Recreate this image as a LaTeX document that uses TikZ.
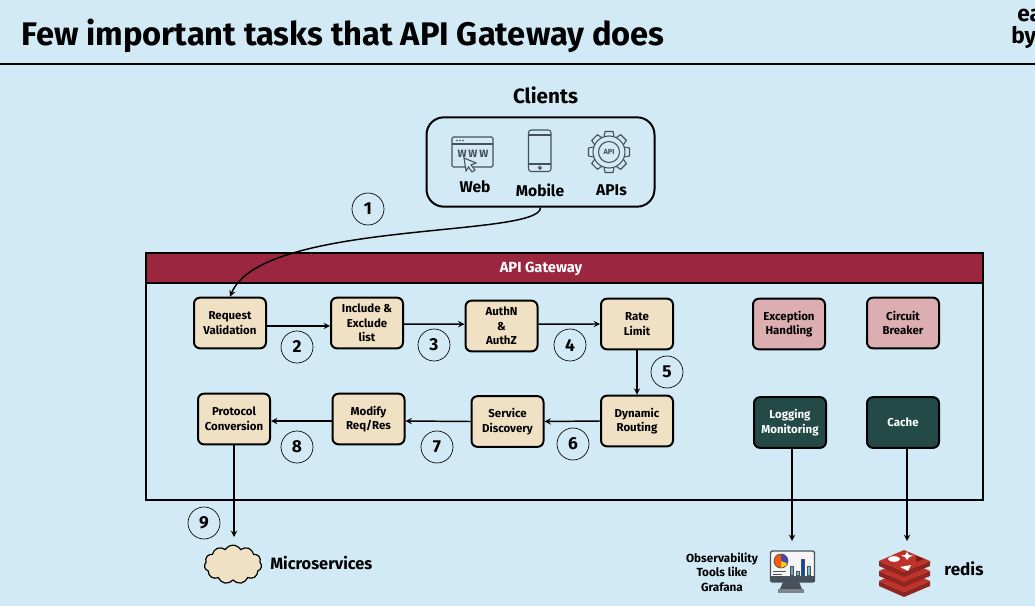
\documentclass[tikz,border=0pt]{standalone}
\usepackage{fontspec}
\setmainfont{Fira Sans}
\usepackage{tikz}
\usetikzlibrary{shapes.geometric, shapes.symbols, arrows}
\definecolor{bgblue}{RGB}{209,234,245}
\definecolor{boxcream}{RGB}{241,225,196}
\definecolor{boxpink}{RGB}{220,174,178}
\definecolor{boxteal}{RGB}{35,74,71}
\definecolor{barred}{RGB}{155,38,63}
\definecolor{redisred}{RGB}{190,50,42}
\definecolor{icongray}{RGB}{70,80,90}
\tikzstyle{flow} = [line width=1.1pt,->,>=stealth]
\tikzstyle{taskbox} = [draw=black,line width=1.5pt,rounded corners=4.5pt,fill=boxcream,minimum width=54pt,minimum height=38pt,inner sep=0pt,align=center,font=\fontsize{8.6}{11}\selectfont\bfseries]
\tikzstyle{sidebox} = [taskbox,fill=boxpink]
\tikzstyle{darkbox} = [taskbox,fill=boxteal,text=white]
\tikzstyle{stepnum} = [draw=black,circle,line width=0.5pt,minimum size=24pt,inner sep=0pt,font=\fontsize{13}{13}\selectfont\bfseries]
\tikzstyle{plainlabel} = [inner sep=0pt,align=center,font=\fontsize{11.7}{14}\selectfont\bfseries]
\tikzstyle{iconline} = [draw=icongray,line width=0.8pt]

\begin{document}
\begin{tikzpicture}[x=0.75pt,y=0.75pt,yscale=-1,xscale=1]
\useasboundingbox (0,0) rectangle (1035,606);
\clip (0,0) rectangle (1035,606);
\fill [bgblue] (0,0) rectangle (1035,606);

%Header rule
\draw [line width=2.2pt] (0,64) -- (1035,64);
% Text Node
\node (title) at (21,36) [anchor=west,inner sep=0pt,font=\fontsize{24.5}{28}\selectfont\bfseries] {Few important tasks that API Gateway does};
% Text Node
\node (logoa) at (1017,15) [anchor=west,inner sep=0pt,font=\fontsize{17}{20}\selectfont\bfseries] {ea};
% Text Node
\node (logob) at (1011,37) [anchor=west,inner sep=0pt,font=\fontsize{17}{20}\selectfont\bfseries] {by};

%Clients
\node (clientstitle) at (545.5,95) [plainlabel,font=\fontsize{15.5}{18}\selectfont\bfseries] {Clients};
\node (clients) at (540.5,162) [draw=black,line width=1.5pt,rounded corners=13pt,minimum width=171pt,minimum height=67pt] {};
\node (web) at (475,187) [plainlabel] {Web};
\node (mobile) at (540,190) [plainlabel] {Mobile};
\node (apis) at (611.5,190) [plainlabel] {APIs};

%Web icon
\draw [iconline,rounded corners=1pt] (452,137) rectangle (493,167);
\draw [iconline] (452,144) -- (493,144);
\foreach \x in {457,460,463} {\fill [icongray] (\x,140.5) circle (0.9);}
\node (www) at (473,154) [inner sep=0pt,text=icongray,font=\fontsize{8}{8}\selectfont\bfseries] {W\,W\,W};
\draw [iconline,fill=bgblue] (464,158) -- (476,163) -- (471,165) -- (475,170) -- (472,172) -- (468.5,167) -- (466,171) -- cycle;

%Mobile icon
\draw [iconline,rounded corners=2pt] (528.5,130) rectangle (551,171.5);
\draw [iconline] (528.5,135) -- (551,135);
\draw [iconline] (528.5,164) -- (551,164);
\draw [iconline] (539.8,167.8) circle (1.4);

%Gear icon
\foreach \a in {0,45,...,315} {
  \draw [iconline,rotate around={\a:(609,152)}] (604,136.5) -- (605,131.5) -- (613,131.5) -- (614,136.5);
}
\draw [iconline] (609,152) circle (16);
\draw [iconline] (609,152) circle (10.5);
\node (apitext) at (609,152) [inner sep=0pt,text=icongray,font=\fontsize{5.5}{6}\selectfont\bfseries] {API};

%Gateway
\node (gateway) at (564.5,376.5) [draw=black,line width=1.5pt,minimum width=627.5pt,minimum height=185pt,inner sep=0pt] {};
\node (gatewaybar) at (564.5,268) [draw=black,line width=1.2pt,fill=barred,minimum width=627.5pt,minimum height=22.5pt,inner sep=0pt] {};
\node (gatewaylabel) at (541,268.5) [inner sep=0pt,text=white,font=\fontsize{11}{13}\selectfont\bfseries] {API Gateway};

%Tasks
\node (reqval) at (230,323) [taskbox] {Request\\Validation};
\node (incl) at (367,323) [taskbox] {Include \&\\Exclude\\list};
\node (authn) at (501.5,326) [taskbox] {AuthN\\\&\\AuthZ};
\node (rate) at (637,324) [taskbox] {Rate\\Limit};
\node (dyn) at (637,421) [taskbox] {Dynamic\\Routing};
\node (svc) at (507.5,421.5) [taskbox] {Service\\Discovery};
\node (modify) at (368.5,419) [taskbox] {Modify\\Req/Res};
\node (proto) at (234,419) [taskbox] {Protocol\\Conversion};
\node (exc) at (789,324) [sidebox] {Exception\\Handling};
\node (breaker) at (903,323) [sidebox] {Circuit\\Breaker};
\node (logging) at (790,422.5) [darkbox] {Logging\\Monitoring};
\node (cache) at (903,422.5) [darkbox] {Cache};

%Step numbers
\node (one) at (368,209) [stepnum] {1};
\node (two) at (297,347) [stepnum] {2};
\node (three) at (434,345) [stepnum] {3};
\node (four) at (570,345) [stepnum] {4};
\node (five) at (667,372) [stepnum] {5};
\node (six) at (573,444) [stepnum] {6};
\node (seven) at (437,447) [stepnum] {7};
\node (eight) at (297,447) [stepnum] {8};
\node (nine) at (204,523) [stepnum] {9};

%Bottom row
\node (cloud) at (233,564.5) [cloud,cloud puffs=11,cloud puff arc=120,aspect=1.5,draw=black,line width=0.9pt,fill=boxcream,minimum width=43pt,minimum height=29pt,inner sep=0pt] {};
\node (micro) at (270,563) [anchor=west,plainlabel,font=\fontsize{12.3}{14}\selectfont\bfseries] {Microservices};
\node (observ) at (722,572) [plainlabel,font=\fontsize{8.8}{10.8}\selectfont\bfseries] {Observability\\Tools like\\Grafana};
\node (redislabel) at (964,569) [plainlabel,font=\fontsize{12.8}{14}\selectfont\bfseries] {redis};
\coordinate (monitortop) at (792,541);
\coordinate (redistop) at (907,541);
\coordinate (cloudtop) at (234,537);

%Connectors
\draw [flow] (clients.south) .. controls (540,238) and (262,220) .. (reqval.north);
\draw [flow] ([yshift=2.2pt]reqval.east) -- ([yshift=2.2pt]incl.west);
\draw [flow] ([yshift=0.8pt]incl.east) -- ([yshift=-1.4pt]authn.west);
\draw [flow] ([yshift=-1.4pt]authn.east) -- (rate.west);
\draw [flow] (rate.south) -- (dyn.north);
\draw [flow] (dyn.west) -- (svc.east);
\draw [flow] (svc.west) -- ([yshift=1.5pt]modify.east);
\draw [flow] ([yshift=1.5pt]modify.west) -- ([yshift=1.5pt]proto.east);
\draw [flow] (proto.south) -- (cloudtop);
\draw [flow] ([xshift=1.5pt]logging.south) -- (monitortop);
\draw [flow] ([xshift=3pt]cache.south) -- (redistop);

%Monitor icon
\fill [icongray] (783,582) -- (799,582) -- (802,589) -- (780,589) -- cycle;
\fill [icongray!70] (778,589) rectangle (804,593);
\draw [iconline,fill=white!92!gray,rounded corners=1.5pt,line width=1pt] (770.5,551) rectangle (814.5,582);
\fill [icongray] (770.5,576) rectangle (814.5,582);
\fill [yellow!75!orange] (781,561) circle (7);
\fill [orange!70!red] (781,561) -- (781,554) arc (-90:-270:7) -- cycle;
\fill [blue!45!gray] (781,561) -- (781,554) arc (-90:20:7) -- cycle;
\draw [icongray,line width=0.5pt] (781,561) circle (7);
\draw [icongray,line width=0.6pt] (773,571) -- (786,571) (773,574) -- (782,574);
\draw [draw=icongray,fill=cyan!35!gray,line width=0.5pt] (790,566) rectangle (793,575);
\draw [draw=icongray,fill=teal!50,line width=0.5pt] (796,571) rectangle (799,575);
\draw [draw=icongray,fill=blue!40!teal,line width=0.5pt] (801,559) rectangle (804,575);
\draw [draw=icongray,fill=teal!50,line width=0.5pt] (807,566) rectangle (810,575);

%Redis icon
\foreach \y in {20,10,0} {
  \fill [redisred!75!black] (879,561+\y) -- (904,572+\y) -- (930,561+\y) -- (930,566+\y) -- (904,577+\y) -- (879,566+\y) -- cycle;
  \fill [redisred] (879,561+\y) -- (904,550+\y) -- (930,561+\y) -- (904,572+\y) -- cycle;
}
\fill [white] (894,559) ellipse (6 and 2.8);
\fill [white] (905,555) -- (907,552) -- (909,555) -- (913,555.5) -- (909.5,557) -- (907,560) -- (905,557) -- (901,555.5) -- cycle;
\fill [white] (900,567) -- (911,565) -- (908,571) -- cycle;
\fill [redisred!60!black] (916,556) -- (924,559) -- (916,562) -- cycle;

\end{tikzpicture}
\end{document}
